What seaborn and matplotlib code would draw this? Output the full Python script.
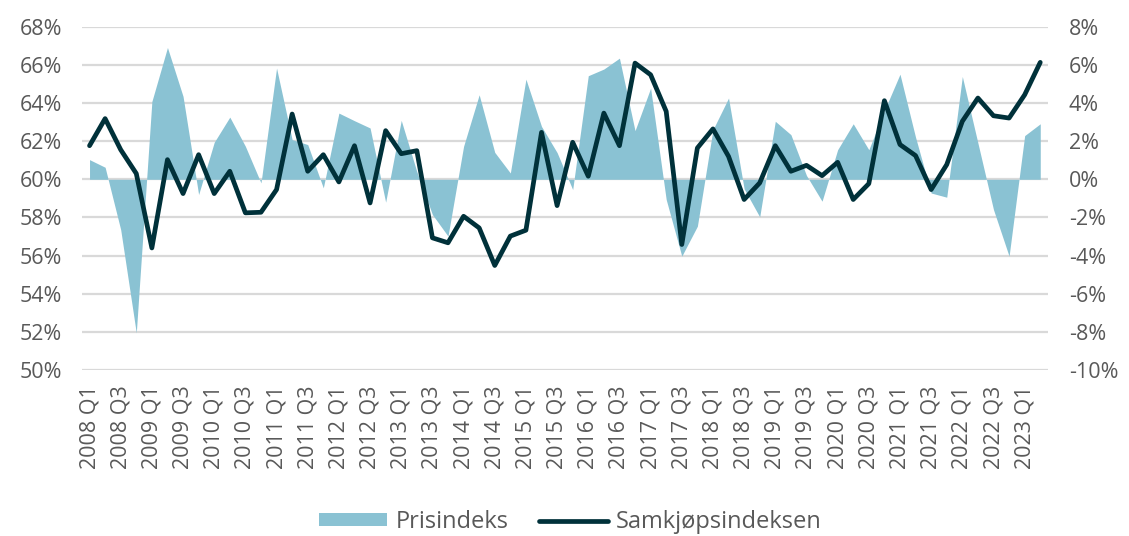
import numpy as np
import pandas as pd
import seaborn as sns
import matplotlib.pyplot as plt
from matplotlib.patches import Patch
from matplotlib.lines import Line2D
from matplotlib.ticker import FuncFormatter

# ----------------------------------------
# Data
# ----------------------------------------
years = list(range(2008, 2024))
quarters = [f"{y} Q{q}" for y in years for q in range(1, 5)][:62]   # 2008 Q1 .. 2023 Q2

# Samkjøpsindeksen, left axis (%)
samkjop = [61.76, 63.18, 61.55, 60.30, 56.40, 61.03, 59.25, 61.29, 59.25, 60.42,
           58.24, 58.27, 59.46, 63.42, 60.42, 61.29, 59.86, 61.76, 58.76, 62.55,
           61.34, 61.50, 56.93, 56.67, 58.06, 57.45, 55.48, 57.02, 57.33, 62.46,
           58.62, 61.94, 60.16, 63.47, 61.76, 66.09, 65.48, 63.56, 56.58, 61.64,
           62.64, 61.20, 58.94, 59.81, 61.76, 60.42, 60.73, 60.19, 60.89, 58.94,
           59.77, 64.12, 61.82, 61.24, 59.46, 60.77, 63.04, 64.26, 63.33, 63.21,
           64.43, 66.13]

# Prisindeks, right axis (% change)
prisindeks = [1.03, 0.63, -2.64, -8.05, 4.08, 6.91, 4.35, -0.80, 1.94, 3.26,
              1.73, -0.19, 5.83, 2.08, 1.82, -0.45, 3.47, 3.07, 2.69, -1.20,
              3.09, 0.40, -1.85, -2.98, 1.73, 4.43, 1.41, 0.33, 5.25, 2.77,
              1.40, -0.54, 5.43, 5.78, 6.35, 2.55, 4.78, -1.06, -4.03, -2.46,
              2.60, 4.26, -0.50, -1.97, 3.04, 2.34, 0.20, -1.15, 1.55, 2.91,
              1.55, 3.60, 5.51, 2.20, -0.72, -0.94, 5.39, 1.90, -1.59, -4.03,
              2.29, 2.91]

df = pd.DataFrame({"kvartal": quarters, "samkjop": samkjop, "pris": prisindeks})
df["pos"] = np.arange(len(df))

# ----------------------------------------
# Style
# ----------------------------------------
sns.set_theme(style="white")
plt.rcParams["font.family"] = ["Open Sans", "DejaVu Sans"]

area_color = "#8ac2d3"
line_color = "#00313a"
text_color = "#595959"
grid_color = "#d9d9d9"
fs = 15.5

fig, ax = plt.subplots(figsize=(11.29, 5.36), dpi=100)
fig.subplots_adjust(left=0.0724, right=0.9283, top=0.9502, bottom=0.3097)
ax2 = ax.twinx()

# area behind, line on top
ax.set_zorder(ax2.get_zorder() + 1)
ax.patch.set_visible(False)

ax2.fill_between(df["pos"], 0, df["pris"], color=area_color, linewidth=0)
sns.lineplot(data=df, x="pos", y="samkjop", ax=ax, color=line_color,
             linewidth=3.4, solid_joinstyle="round", solid_capstyle="round")

# axes ranges
ax.set_ylim(50, 68)
ax2.set_ylim(-10, 8)
ax.set_xlim(-0.5, len(df) - 0.5)
ax.set_yticks(np.arange(50, 69, 2))
ax2.set_yticks(np.arange(-10, 9, 2))
ax.yaxis.set_major_formatter(FuncFormatter(lambda v, p: f"{v:.0f}%"))
ax2.yaxis.set_major_formatter(FuncFormatter(lambda v, p: f"{v:.0f}%"))

# gridlines on the back axis
ax2.set_axisbelow(True)
ax2.grid(axis="y", color=grid_color, linewidth=1.6)
ax.grid(False)

ax.set_xticks(df["pos"][::2])
ax.set_xticklabels(df["kvartal"][::2], rotation=90)

ax.set_xlabel("")
ax.set_ylabel("")
ax2.set_ylabel("")

for a in (ax, ax2):
    for s in a.spines.values():
        s.set_visible(False)

ax.tick_params(axis="y", length=0, pad=14, labelsize=fs, labelcolor=text_color)
ax2.tick_params(axis="y", length=0, pad=15, labelsize=fs, labelcolor=text_color)
ax.tick_params(axis="x", length=0, pad=11, labelsize=fs, labelcolor=text_color)

# legend
handles = [Patch(facecolor=area_color, edgecolor="none"),
           Line2D([0], [0], color=line_color, linewidth=3.4, solid_capstyle="round")]
fig.legend(handles, ["Prisindeks", "Samkjøpsindeksen"], loc="center",
           bbox_to_anchor=(0.505, 0.026), ncol=2, frameon=False,
           fontsize=17, labelcolor=text_color, handlelength=2.9,
           handleheight=0.5, columnspacing=1.3, handletextpad=0.35)

fig.savefig("out.png", dpi=100)
plt.close(fig)
